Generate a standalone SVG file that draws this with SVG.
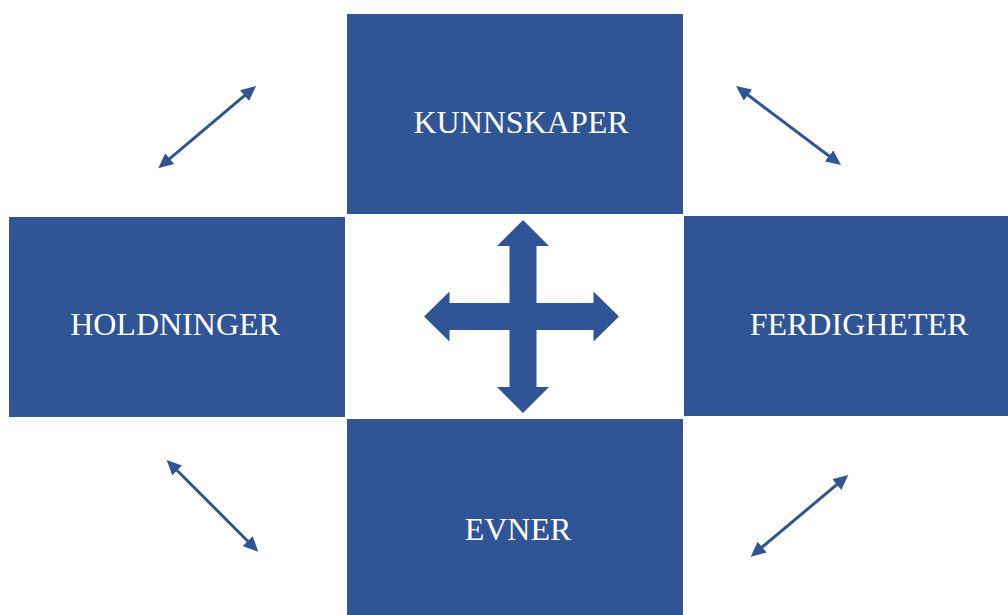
<svg xmlns="http://www.w3.org/2000/svg" width="1008" height="615" viewBox="0 0 1008 615">
  <style>
    .box { fill: #2F5597; }
    .label { fill: #FFFFFF; font-family: "Liberation Serif", "Times New Roman", serif; font-size: 32px; text-anchor: middle; }
    .conn { stroke: #2F5597; stroke-width: 3; fill: none; marker-start: url(#head); marker-end: url(#head); }
  </style>
  <defs>
    <marker id="head" markerUnits="userSpaceOnUse" viewBox="0 0 15 14" markerWidth="15" markerHeight="14" refX="10" refY="7" orient="auto-start-reverse">
      <path d="M0,0 L15,7 L0,14 Z" fill="#2F5597"/>
    </marker>
  </defs>
  <rect width="1008" height="615" fill="#FFFFFF"/>
  <g id="node-kunnskaper">
    <rect class="box" x="347" y="14" width="336" height="200"/>
    <text class="label" x="521" y="133">KUNNSKAPER</text>
  </g>
  <g id="node-holdninger">
    <rect class="box" x="9" y="217" width="336" height="200"/>
    <text class="label" x="175" y="335">HOLDNINGER</text>
  </g>
  <g id="node-ferdigheter">
    <rect class="box" x="684" y="216" width="324" height="200"/>
    <text class="label" x="859" y="335">FERDIGHETER</text>
  </g>
  <g id="node-evner">
    <rect class="box" x="347" y="419" width="336" height="196"/>
    <text class="label" x="518" y="540">EVNER</text>
  </g>
  <g id="connectors">
    <line class="conn" x1="162.1" y1="165.1" x2="252.2" y2="89.2"/>
    <line class="conn" x1="740" y1="89" x2="837" y2="162"/>
    <line class="conn" x1="170.2" y1="463.5" x2="254.8" y2="548.2"/>
    <line class="conn" x1="844.5" y1="478.2" x2="754.5" y2="553.5"/>
    <path fill="#2F5597" d="M523,220 L549,246 L536.5,246 L536.5,303 L593.5,303 L593.5,291.5 L619,316.5 L593.5,341.5 L593.5,330 L536.5,330 L536.5,387 L549,387 L523,413 L497,387 L509.5,387 L509.5,330 L449.5,330 L449.5,341.5 L424,316.5 L449.5,291.5 L449.5,303 L509.5,303 L509.5,246 L497,246 Z"/>
  </g>
</svg>
